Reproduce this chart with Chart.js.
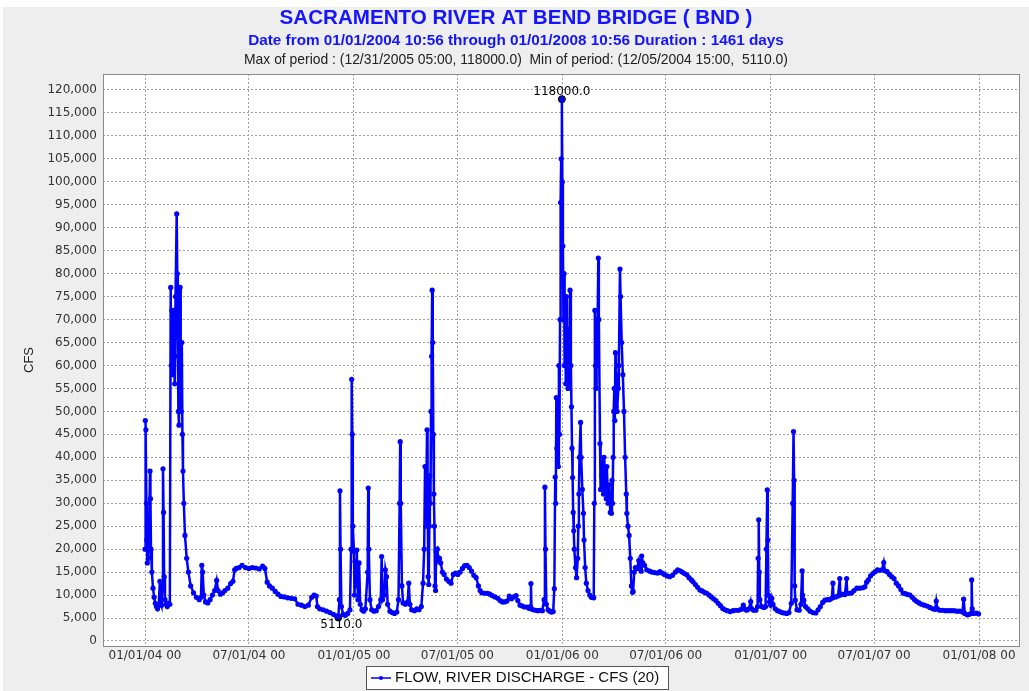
<!DOCTYPE html>
<html>
<head>
<meta charset="utf-8">
<title>Sacramento River at Bend Bridge (BND)</title>
<script src="https://cdn.jsdelivr.net/npm/chart.js@4.4.1/dist/chart.umd.min.js"></script>
<style>
  html, body { margin: 0; padding: 0; background: #ffffff; }
  canvas { display: block; }
</style>
</head>
<body>
<canvas id="flowChart" width="1029" height="691"></canvas>
<script>
// Flow readings: [days since 01/01/2004, CFS]
const flow2004 = [
  [0, 20000], [0.5, 48000], [1.5, 46000], [2.5, 30000], [3, 22000], [4, 17000], [5, 26000], [6, 18000],
  [7, 24000], [8.8, 37000], [9.5, 31000], [10.5, 20000], [12, 15000], [14, 11500], [16, 9500], [18, 8200],
  [20, 7500], [22, 7000], [24, 7800], [26, 13000], [27.5, 8500], [29, 7800], [30.5, 12000], [31.5, 37500],
  [32.5, 28000], [33.5, 14000], [35, 9000], [37, 8000], [39, 7500], [41, 8200], [43.5, 8000], [45, 77000],
  [46, 60000], [47, 72000], [48, 58000], [49, 66000], [50, 62000], [51, 72000], [52, 56000], [53.5, 75000],
  [55.5, 93000], [56.5, 80000], [57.5, 62000], [58.5, 50000], [59.5, 47000], [60.5, 70000], [61.5, 77000],
  [62.5, 60000], [63.5, 50000], [64.5, 65000], [65.5, 45000], [66.5, 37000], [68, 30000], [70, 23000],
  [73, 18000], [76, 15000], [80, 12000], [85, 10500], [90, 9500], [95, 9000], [98, 9500], [99.5, 16500],
  [101, 15000], [103, 10000], [106, 8500], [110, 8300], [114, 9000], [118, 10000], [122, 11000],
  [125.5, 13200], [128, 11000], [132, 10200], [136, 10500], [140, 11000], [145, 11500], [150, 12500],
  [154, 13000], [157, 15500], [160, 15800], [165, 16000], [170, 16500], [176, 16000], [182, 15800],
  [188, 16000], [194, 15900], [200, 15700], [206, 16300], [210, 15800], [214, 12800], [218, 12000],
  [223, 11500], [228, 10800], [233, 10200], [238, 9700], [244, 9600], [250, 9400], [256, 9300], [262, 9200],
  [268, 8000], [274, 7800], [280, 7500], [286, 7800], [292, 9500], [296, 10000], [300, 9800], [302, 7500],
  [306, 7000], [312, 6800], [318, 6500], [324, 6200], [330, 5800], [335, 5500], [338.6, 5110], [340.5, 9000],
  [341.5, 32700], [342.5, 20000], [344, 7500], [347, 5800], [351, 5600], [355, 6000], [359, 6800],
  [361, 20000], [362, 57000], [363, 45000], [364, 25000]
];

const flow2005 = [
  [366, 19500], [367, 10000], [368, 17300], [370, 12000], [371, 19800], [373, 9000], [375, 17000], [377, 8000],
  [380, 6800], [383, 6500], [386, 7000], [390, 15000], [391, 33300], [392, 20000], [394, 9000], [397, 6800],
  [401, 6500], [405, 6600], [409, 7500], [413, 9000], [414.5, 18400], [416, 9000], [419, 10000], [421, 15500],
  [423, 14000], [425, 8000], [429, 6500], [433, 6200], [437, 6000], [441, 6300], [444, 9000], [446, 30000],
  [447, 43400], [448, 30000], [450, 12000], [452, 8300], [456, 8000], [460, 8500], [462, 12600], [464, 8000],
  [467, 6800], [472, 6600], [476, 7000], [480, 6800], [484, 7500], [487, 12600], [489, 20000], [490.5, 38000],
  [492, 25000], [494, 46000], [495, 35000], [496, 14000], [497, 12300], [498, 25000], [499, 36000],
  [500, 30000], [501, 50000], [502, 62000], [503, 76400], [504, 65000], [505, 45000], [506, 32000],
  [507, 25000], [508, 12000], [509, 11000], [510, 19500], [512, 20000], [514, 17500], [516, 18000],
  [518, 17000], [521, 15000], [524, 14500], [528, 13500], [532, 13000], [536, 12600], [540, 14500],
  [544, 14800], [548, 14500], [552, 15000], [556, 15800], [560, 16400], [564, 16500], [568, 16000],
  [572, 15200], [576, 14300], [580, 13800], [584, 12000], [587, 11000], [590, 10500], [595, 10400],
  [600, 10400], [604, 10200], [608, 9900], [613, 9600], [618, 9300], [622, 8800], [626, 8500], [630, 8500],
  [634, 8700], [638, 9800], [642, 9200], [646, 9600], [650, 9900], [653, 8800], [657, 7800], [661, 7600],
  [665, 7400], [669, 7400], [673, 7100], [675, 7500], [676, 12500], [677, 7000], [680, 6800], [684, 6700],
  [688, 6600], [692, 6700], [696, 6600], [699, 9000], [700.5, 33500], [701.5, 20000], [703, 8000],
  [706, 6800], [709, 6500], [712, 6300], [715, 6400], [717, 11400], [718.5, 35700], [719.5, 30000],
  [720.5, 53000], [721.5, 42000], [722.5, 50000], [724, 38000], [725, 60000], [726, 45000], [727, 70000],
  [728, 95500], [729, 105000], [730.2, 118000]
];

const flow2006 = [
  [731, 100000], [732, 86000], [733, 70000], [734, 80000], [735, 60000], [736, 72000], [737, 56000],
  [738, 75000], [739, 62000], [740, 68000], [741, 55000], [742, 66000], [743, 58000], [744.5, 76400],
  [746, 60000], [747, 51000], [748, 42000], [749, 35600], [750, 28000], [751, 24000], [752, 20000],
  [754, 16000], [756, 13800], [758, 18000], [759, 25000], [760, 32000], [761, 40000], [763, 47600],
  [764, 40000], [766, 33000], [768, 27800], [769, 22000], [771, 16000], [773, 12600], [776, 11000],
  [779, 10000], [782, 9500], [786, 9400], [787, 30000], [788, 72000], [789, 60000], [790, 55000],
  [791, 70000], [792, 60000], [794, 83400], [795, 70000], [797, 43000], [798, 33000], [800, 36000],
  [802, 39000], [803, 32000], [804, 40000], [806, 35000], [808, 31000], [809, 38000], [811, 30000],
  [813, 34000], [815, 28000], [817, 27800], [818, 35000], [819, 30000], [820, 40000], [821, 50000],
  [822, 55000], [823, 48000], [824, 62800], [825, 51000], [826, 58000], [827, 50000], [829, 55000],
  [830, 60000], [832, 81000], [833, 75000], [835, 65000], [837, 58000], [839, 50000], [841, 40000],
  [843, 32000], [844, 27800], [846, 25000], [848, 23000], [850, 18000], [852, 12000], [854, 10600],
  [855, 10800], [857, 15000], [859, 16000], [862, 15800], [865, 17500], [867, 16500], [869, 15200],
  [870, 18500], [872, 17000], [875, 16500], [879, 15500], [884, 15200], [888, 15000], [893, 14900],
  [898, 14800], [902, 15100], [906, 14800], [910, 14500], [914, 14200], [919, 14000], [924, 14300],
  [929, 15000], [933, 15500], [937, 15300], [941, 15000], [945, 14700], [949, 14400], [953, 13800],
  [957, 13300], [960, 12900], [964, 12300], [968, 11700], [972, 11100], [976, 10900], [980, 10600],
  [984, 10400], [988, 10000], [992, 9600], [996, 9200], [1000, 8800], [1004, 8200], [1008, 7700],
  [1012, 7100], [1016, 6800], [1020, 6600], [1025, 6400], [1030, 6600], [1035, 6700], [1040, 6700],
  [1044, 6900], [1048, 7800], [1051, 6900], [1054, 6700], [1058, 7000], [1061, 8600], [1063, 7000],
  [1066, 6700], [1070, 6700], [1073, 7500], [1074, 18000], [1075, 26400], [1076, 15000], [1077, 9000],
  [1080, 7500], [1084, 7300], [1087, 7500], [1088.5, 20000], [1090, 32900], [1091, 22000], [1092, 10000],
  [1094, 8500]
];

const flow2007 = [
  [1096, 7800], [1098, 9300], [1100, 8000], [1104, 7000], [1108, 6600], [1112, 6400], [1116, 6200],
  [1120, 6100], [1124, 6000], [1128, 6200], [1132, 8200], [1134.5, 30000], [1136, 45600], [1137, 35000],
  [1138, 12000], [1139, 8900], [1142, 6800], [1146, 6700], [1149, 8000], [1151, 15300], [1152, 10000],
  [1154, 8900], [1157, 7500], [1161, 7000], [1165, 6500], [1170, 6200], [1175, 6100], [1179, 6800],
  [1183, 7500], [1187, 8400], [1191, 8900], [1195, 9000], [1199, 9000], [1203, 9300], [1205, 12600],
  [1206, 9500], [1210, 9600], [1214, 9800], [1217, 13600], [1218, 10000], [1222, 10200], [1226, 10100],
  [1229, 13600], [1230, 10400], [1234, 10400], [1238, 10500], [1242, 11000], [1247, 11500], [1252, 11500],
  [1257, 11600], [1261, 11800], [1264, 12800], [1267, 13300], [1271, 14200], [1275, 14700], [1279, 15100],
  [1283, 15500], [1287, 15400], [1291, 15500], [1294, 17100], [1296, 15300], [1300, 15100], [1304, 14500],
  [1308, 14000], [1312, 13600], [1316, 12600], [1320, 12000], [1324, 11200], [1328, 10400], [1332, 10300],
  [1336, 10100], [1340, 10000], [1344, 9500], [1348, 9000], [1352, 8600], [1356, 8300], [1360, 8000],
  [1365, 7800], [1370, 7600], [1375, 7300], [1380, 7000], [1384, 6900], [1386, 8700], [1388, 7000],
  [1392, 6700], [1397, 6700], [1402, 6600], [1407, 6600], [1412, 6600], [1417, 6600], [1422, 6500],
  [1427, 6500], [1432, 6300], [1434, 9100], [1436, 6000], [1440, 5700], [1444, 5800], [1447, 6000],
  [1448, 13300], [1449, 7000], [1452, 6000], [1456, 6100], [1460, 5900]
];

// Axis ticks
const xTickDays = [0, 182, 366, 547, 731, 912, 1096, 1277, 1461];
const xTickLabels = ['01/01/04 00', '07/01/04 00', '01/01/05 00', '07/01/05 00', '01/01/06 00',
                     '07/01/06 00', '01/01/07 00', '07/01/07 00', '01/01/08 00'];
const yTickStep = 5000;
const yTickMax = 120000;

// Text
const chartTitle = 'SACRAMENTO RIVER AT BEND BRIDGE ( BND )';
const chartSubtitle = 'Date from 01/01/2004 10:56 through 01/01/2008 10:56 Duration : 1461 days';
const chartStats = 'Max of period : (12/31/2005 05:00, 118000.0)  Min of period: (12/05/2004 15:00,  5110.0)';
const seriesLabel = 'FLOW, RIVER DISCHARGE - CFS (20)';
const yAxisLabel = 'CFS';

document.addEventListener('DOMContentLoaded', function () {
    var allReadings = flow2004.concat(flow2005, flow2006, flow2007);
    var flowPoints = allReadings.map(function (r) { return { x: r[0], y: r[1] }; });

    // find the max and min of period
    var maxPoint = flowPoints[0], minPoint = flowPoints[0];
    flowPoints.forEach(function (p) {
        if (p.y > maxPoint.y) maxPoint = p;
        if (p.y < minPoint.y) minPoint = p;
    });

    var yTicks = [];
    for (var v = 0; v <= yTickMax; v += yTickStep) yTicks.push(v);

    var blue = '#0000ff';
    var tickFont = { family: '"DejaVu Sans"', size: 12 };

    // Background, header text, frame, legend box and extreme labels
    var decorations = {
        id: 'decorations',
        beforeDraw: function (chart) {
            var ctx = chart.ctx, a = chart.chartArea;
            ctx.save();
            ctx.fillStyle = '#ffffff';
            ctx.fillRect(0, 0, chart.width, chart.height);
            ctx.fillStyle = '#eeeeee';
            ctx.fillRect(3, 7, chart.width - 3, chart.height - 7);
            ctx.fillStyle = '#ffffff';
            ctx.fillRect(a.left, a.top, a.right - a.left, a.bottom - a.top);
            ctx.restore();
        },
        afterDatasetsDraw: function (chart) {
            var ctx = chart.ctx;
            var pts = chart.getDatasetMeta(1).data;
            ctx.save();
            ctx.font = '12px "DejaVu Sans"';
            ctx.fillStyle = '#000000';
            ctx.textAlign = 'center';
            ctx.textBaseline = 'middle';
            // max label above, min label below
            ctx.fillText(maxPoint.y.toFixed(1), pts[0].x, pts[0].y - 7);
            ctx.fillText(minPoint.y.toFixed(1), pts[1].x + 3, pts[1].y + 7);
            ctx.restore();
        },
        afterDraw: function (chart) {
            var ctx = chart.ctx, a = chart.chartArea;
            var cx = 516;
            ctx.save();

            // plot frame
            ctx.strokeStyle = '#8a8a8a';
            ctx.lineWidth = 1;
            ctx.strokeRect(a.left + 0.5, a.top + 0.5, a.right - a.left - 1, a.bottom - a.top);

            // header lines
            ctx.textAlign = 'center';
            ctx.textBaseline = 'middle';
            ctx.fillStyle = '#1414ff';
            ctx.font = 'bold 20.6px "Liberation Sans"';
            ctx.fillText(chartTitle, cx, 18);
            ctx.font = 'bold 15.3px "Liberation Sans"';
            ctx.fillText(chartSubtitle, cx, 41);
            ctx.fillStyle = '#222222';
            ctx.font = '13.9px "Liberation Sans"';
            ctx.fillText(chartStats, cx, 60);

            // legend box
            var ds = chart.data.datasets[0];
            ctx.fillStyle = '#ffffff';
            ctx.fillRect(366, 666, 302, 23);
            ctx.strokeStyle = '#555555';
            ctx.lineWidth = 1;
            ctx.strokeRect(366.5, 666.5, 302, 23);
            ctx.strokeStyle = ds.borderColor;
            ctx.lineWidth = 1.5;
            ctx.beginPath();
            ctx.moveTo(371, 678);
            ctx.lineTo(391, 678);
            ctx.stroke();
            ctx.fillStyle = ds.borderColor;
            ctx.beginPath();
            ctx.arc(381, 678, 2, 0, Math.PI * 2);
            ctx.fill();
            ctx.fillStyle = '#111111';
            ctx.textAlign = 'left';
            ctx.font = '15px "Liberation Sans"';
            ctx.fillText(ds.label, 395, 678);
            ctx.restore();
        }
    };

    var ctx = document.getElementById('flowChart').getContext('2d');
    new Chart(ctx, {
        type: 'line',
        data: {
            datasets: [
                {
                    label: seriesLabel,
                    data: flowPoints,
                    borderColor: blue,
                    backgroundColor: blue,
                    borderWidth: 2.5,
                    pointRadius: 2.6,
                    pointBorderWidth: 0,
                    pointBackgroundColor: blue,
                    fill: false,
                    tension: 0
                },
                {
                    label: 'extremes',
                    data: [maxPoint, minPoint],
                    showLine: false,
                    pointRadius: 3.5,
                    pointBackgroundColor: '#222222',
                    pointBorderColor: '#000000',
                    pointBorderWidth: 1
                }
            ]
        },
        options: {
            responsive: false,
            animation: false,
            devicePixelRatio: 1,
            events: [],
            layout: { padding: { top: 74, right: 9, bottom: 0, left: 0 } },
            plugins: {
                legend: { display: false },
                tooltip: { enabled: false },
                title: { display: false }
            },
            scales: {
                x: {
                    type: 'linear',
                    min: -73.6,
                    max: 1532.7,
                    afterFit: function (scale) { scale.height = 45; },
                    afterBuildTicks: function (scale) {
                        scale.ticks = xTickDays.map(function (d) { return { value: d }; });
                    },
                    ticks: {
                        padding: 3,
                        maxRotation: 0,
                        autoSkip: false,
                        color: '#333333',
                        font: tickFont,
                        callback: function (value) {
                            var i = xTickDays.indexOf(value);
                            return i >= 0 ? xTickLabels[i] : '';
                        }
                    },
                    grid: { color: '#a0a0a0', drawTicks: false },
                    border: { display: false, dash: [2, 2] }
                },
                y: {
                    min: -1090,
                    max: 123480,
                    afterFit: function (scale) { scale.width = 103; },
                    afterBuildTicks: function (scale) {
                        scale.ticks = yTicks.map(function (t) { return { value: t }; });
                    },
                    ticks: {
                        padding: 6,
                        color: '#333333',
                        font: tickFont,
                        callback: function (value) { return value.toLocaleString('en-US'); }
                    },
                    grid: { color: '#a0a0a0', drawTicks: false },
                    border: { display: false, dash: [2, 2] },
                    title: {
                        display: true,
                        text: yAxisLabel,
                        color: '#222222',
                        font: { family: '"Liberation Sans"', size: 13 },
                        padding: { top: 22, bottom: 0 }
                    }
                }
            }
        },
        plugins: [decorations]
    });
});
</script>
</body>
</html>
